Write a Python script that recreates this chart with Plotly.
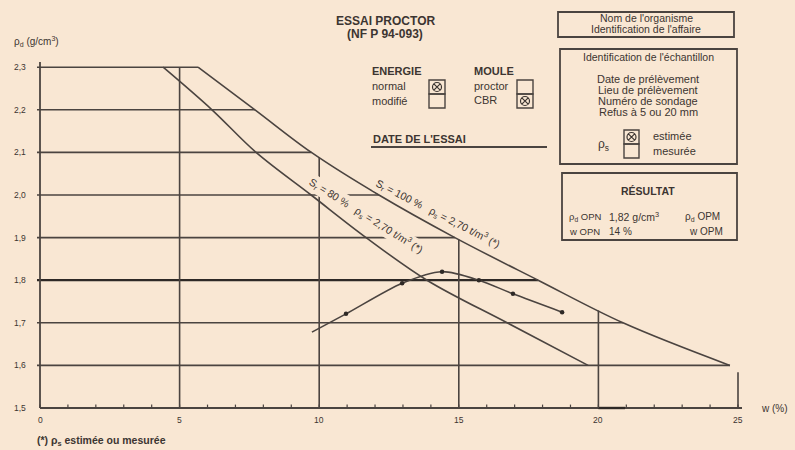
import numpy as np
import plotly.graph_objects as go

# ---- data -------------------------------------------------------------
# Saturation curve Sr = 100 %, rho_s = 2,70 t/m3  (w %, rho_d g/cm3)
sat100_w = [5.66, 7.70, 9.72, 12.14, 14.86, 17.84, 20.88, 24.71]
sat100_rho = [2.30, 2.20, 2.10, 2.00, 1.90, 1.80, 1.70, 1.60]

# Saturation curve Sr = 80 %, rho_s = 2,70 t/m3
sat80_w = [4.41, 6.16, 7.74, 9.71, 11.68, 13.86, 16.73, 19.63]
sat80_rho = [2.30, 2.20, 2.10, 2.00, 1.90, 1.80, 1.70, 1.60]

# Proctor compaction curve (measured points)
proctor_w = [9.74, 10.96, 12.97, 14.40, 15.72, 16.94, 18.70]
proctor_rho = [1.678, 1.721, 1.793, 1.820, 1.800, 1.768, 1.725]
proctor_marked = [False, True, True, True, True, True, True]

# Optimum Proctor Normal
w_opn = 14.40
rho_opn = 1.82

# Axes
x_ticks = [0, 5, 10, 15, 20, 25]
x_minor = list(range(0, 26))
y_ticks = [1.5, 1.6, 1.7, 1.8, 1.9, 2.0, 2.1, 2.2, 2.3]
y_tick_labels = ["1,5", "1,6", "1,7", "1,8", "1,9", "2,0", "2,1", "2,2", "2,3"]

# ---- styling ----------------------------------------------------------
BG = "#F9E7D3"
INK = "#3c3531"
LINE = "#4b4440"
FONT = "Liberation Sans, Arial, sans-serif"

# pixel scale of the drawing
X0, SX = 40.0, 27.92       # px of w=0, px per % of water content
Y0, SY = 408.0, 426.0      # px of rho=1.5, px per g/cm3
W, H = 795, 450


def X(px):
    return (px - X0) / SX


def Y(py):
    return 1.5 + (Y0 - py) / SY


fig = go.Figure()
shapes = []
ann = []


def seg(x0, y0, x1, y1, width=1.6, color=LINE):
    shapes.append(dict(type="line", x0=x0, y0=y0, x1=x1, y1=y1,
                       xref="x", yref="y", layer="below",
                       line=dict(color=color, width=width)))


def rect(px0, py0, px1, py1, width=1.6):
    shapes.append(dict(type="rect", x0=X(px0), y0=Y(py0), x1=X(px1), y1=Y(py1),
                       xref="x", yref="y", layer="below",
                       line=dict(color=LINE, width=width)))


def text(s, px, py, size=8, anchor="center", bold=False, **kw):
    if bold:
        s = "<b>" + s + "</b>"
    ann.append(dict(text=s, x=X(px), y=Y(py), xref="x", yref="y",
                    xanchor=anchor, yanchor="middle", showarrow=False,
                    font=dict(family=FONT, size=size, color=INK), **kw))


# ---- grid bounded by the Sr = 100 % curve -------------------------------
up_w = np.array(sat100_w)
up_r = np.array(sat100_rho)
for yv in y_ticks[1:]:
    x_end = float(np.interp(yv, up_r[::-1], up_w[::-1]))
    dark = abs(yv - 1.8) < 1e-9
    seg(X(37), yv, x_end, yv, width=2.2 if dark else 1.6,
        color="#2e2926" if dark else LINE)
for xv in x_ticks[1:]:
    top = float(np.interp(xv, up_w, up_r))
    if xv > up_w[-1]:
        top -= 0.016
    seg(xv, 1.5, xv, top)

# axes
seg(0, 1.5, X(742), 1.5, width=1.8)
seg(20, 1.5, X(625), 1.5, width=2.4, color="#2e2926")
seg(0, 1.5, 0, Y(62), width=1.8)
for xv in x_minor:
    seg(xv, 1.5, xv, 1.5 + 0.008, width=1.2)

# ---- curves -------------------------------------------------------------
fig.add_trace(go.Scatter(x=sat100_w, y=sat100_rho, mode="lines",
                         line=dict(color=LINE, width=1.6, shape="spline"),
                         hoverinfo="skip"))
fig.add_trace(go.Scatter(x=sat80_w, y=sat80_rho, mode="lines",
                         line=dict(color=LINE, width=1.6, shape="spline"),
                         hoverinfo="skip"))
fig.add_trace(go.Scatter(x=proctor_w, y=proctor_rho, mode="lines",
                         line=dict(color=LINE, width=1.6, shape="spline",
                                   smoothing=0.8),
                         hoverinfo="skip"))
fig.add_trace(go.Scatter(x=[w for w, m in zip(proctor_w, proctor_marked) if m],
                         y=[r for r, m in zip(proctor_rho, proctor_marked) if m],
                         mode="markers",
                         marker=dict(color="#2e2926", size=4.5, symbol="circle"),
                         hoverinfo="skip"))

# curve labels (background masks the grid behind them)
ann.append(dict(text="S<sub>r</sub> = 100 %   ρ<sub>s</sub> = 2,70 t/m<sup>3</sup> (*)",
                x=X(438), y=Y(214), xref="x", yref="y", showarrow=False,
                textangle=27, bgcolor=BG, borderpad=0,
                font=dict(family=FONT, size=10.5, color=INK)))
ann.append(dict(text="S<sub>r</sub> = 80 %   ρ<sub>s</sub> = 2,70 t/m<sup>3</sup> (*)",
                x=X(366), y=Y(216), xref="x", yref="y", showarrow=False,
                textangle=32, bgcolor=BG, borderpad=0,
                font=dict(family=FONT, size=10.5, color=INK)))

# tick labels and axis titles
for yv, lab in zip(y_ticks, y_tick_labels):
    text(lab, 28, Y0 - (yv - 1.5) * SY, size=8.5, anchor="right")
for xv in x_ticks:
    text(str(xv), X0 + xv * SX, 420, size=8.5)
text("ρ<sub>d</sub> (g/cm<sup>3</sup>)", 12, 41, size=10, anchor="left")
text("w (%)", 759, 408, size=10, anchor="left")
text("(*) ρ<sub>s</sub> estimée ou mesurée", 35, 441, size=10.5, anchor="left", bold=True)

# ---- header ------------------------------------------------------------
text("ESSAI PROCTOR", 385, 21, size=12, bold=True)
text("(NF P 94-093)", 385, 34, size=12, bold=True)

text("ENERGIE", 370, 71, size=11, anchor="left", bold=True)
text("normal", 370, 86, size=11, anchor="left")
text("modifié", 370, 101, size=11, anchor="left")
text("MOULE", 472, 71, size=11, anchor="left", bold=True)
text("proctor", 472, 86, size=11, anchor="left")
text("CBR", 472, 100, size=11, anchor="left")

checks_x, checks_y = [], []
for bx, checked_top in ((429, True), (517, False)):
    rect(bx, 80, bx + 16, 94, width=1.4)
    rect(bx, 94, bx + 16, 108, width=1.4)
    checks_x.append(X(bx + 8))
    checks_y.append(Y(87 if checked_top else 101))

text("DATE DE L'ESSAI", 371, 139, size=11, anchor="left", bold=True)
seg(X(371), Y(147), X(547), Y(147), width=1.8)

# ---- right-hand boxes -----------------------------------------------------
rect(558, 12, 734, 37, width=1.8)
text("Nom de l'organisme", 646, 18, size=10.5)
text("Identification de l'affaire", 646, 29, size=10.5)

rect(560, 49, 737, 164, width=1.8)
text("Identification de l'échantillon", 648, 57, size=10.5)
text("Date de prélèvement", 648, 79, size=11)
text("Lieu de prélèvement", 648, 90, size=11)
text("Numéro de sondage", 648, 101, size=11)
text("Refus à 5 ou 20 mm", 648, 112, size=11)
text("ρ<sub>s</sub>", 603, 145, size=12)
rect(624, 130, 639, 144, width=1.4)
rect(624, 144, 639, 158, width=1.4)
checks_x.append(X(631.5))
checks_y.append(Y(137))
text("estimée", 651, 136, size=11, anchor="left")
text("mesurée", 651, 151, size=11, anchor="left")

rect(562, 173, 737, 240, width=1.8)
text("RÉSULTAT", 648, 191, size=10.5, bold=True)
text("ρ<sub>d</sub> OPN", 567, 217, size=9.5, anchor="left")
text(f"{rho_opn:.2f}".replace(".", ",") + " g/cm<sup>3</sup>", 607, 216, size=10.5, anchor="left")
text("ρ<sub>d</sub> OPM", 683, 217, size=10, anchor="left")
text("w OPN", 567, 231, size=9.5, anchor="left")
text(f"{w_opn:.0f} %", 607, 231, size=10, anchor="left")
text("w OPM", 687, 231, size=10, anchor="left")

fig.add_trace(go.Scatter(x=checks_x, y=checks_y, mode="markers",
                         marker=dict(symbol="circle-x-open", size=9,
                                     color=INK, line=dict(width=1.2, color=INK)),
                         hoverinfo="skip"))

fig.update_layout(
    width=W, height=H, autosize=False,
    margin=dict(l=0, r=0, t=0, b=0),
    paper_bgcolor=BG, plot_bgcolor=BG,
    showlegend=False,
    xaxis=dict(range=[X(0), X(W)], visible=False, fixedrange=True),
    yaxis=dict(range=[Y(H), Y(0)], visible=False, fixedrange=True),
    shapes=shapes, annotations=ann,
)

fig.write_html("out.html")
